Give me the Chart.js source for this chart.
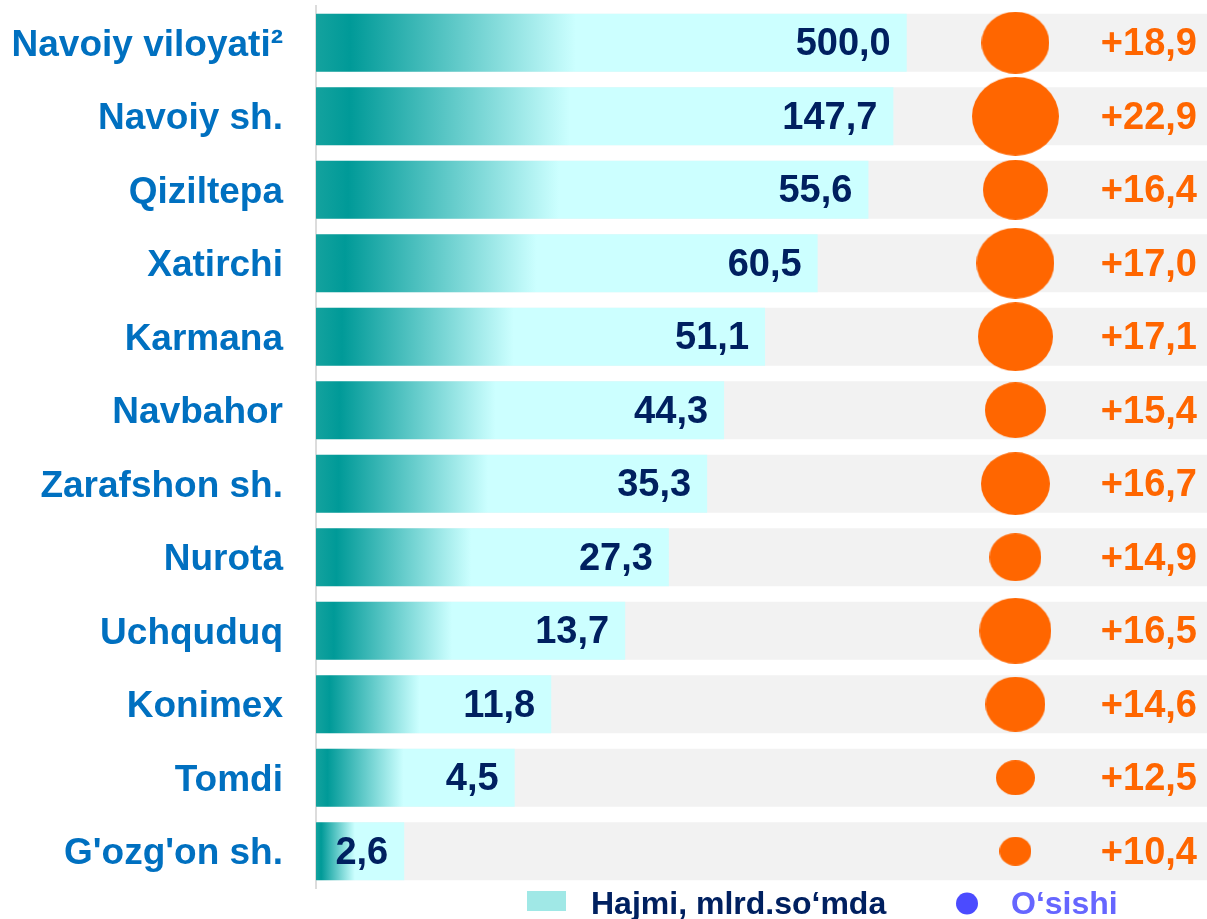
<!DOCTYPE html>
<html>
<head>
<meta charset="utf-8">
<script src="https://cdn.jsdelivr.net/npm/chart.js@4.4.1/dist/chart.umd.min.js"></script>
<style>
  html, body { margin: 0; padding: 0; background: #fff; }
  #wrap { width: 1207px; height: 919px; }
</style>
</head>
<body>
<div id="wrap"><canvas id="chart" width="1207" height="919"></canvas></div>
<script>
// ── data ────────────────────────────────────────────────────
const regions = ['Navoiy viloyati²', 'Navoiy sh.', 'Qiziltepa', 'Xatirchi', 'Karmana', 'Navbahor',
  'Zarafshon sh.', 'Nurota', 'Uchquduq', 'Konimex', 'Tomdi', "G'ozg'on sh."];
const volume = [500.0, 147.7, 55.6, 60.5, 51.1, 44.3, 35.3, 27.3, 13.7, 11.8, 4.5, 2.6];   // Hajmi, mlrd.so'mda
const growth = [18.9, 22.9, 16.4, 17.0, 17.1, 15.4, 16.7, 14.9, 16.5, 14.6, 12.5, 10.4];   // O'sishi
// bar lengths as drawn (the picture does not scale them by value), on a 0–100 axis
const barLength = [66.3, 64.8, 62.0, 56.3, 50.4, 45.8, 43.9, 39.6, 34.7, 26.4, 22.3, 9.9];
// bubble sizes as drawn
const bubbleSize = [32.4, 41.5, 31.3, 37.2, 35.8, 29.2, 32.9, 25.0, 34.5, 28.7, 18.5, 15.3];

const FONT = "'Liberation Sans', Arial, sans-serif";
const BUBBLE_X = 78.5;
const ORANGE = '#FF6600';
const NAVY = '#002060';

Chart.defaults.font.family = FONT;

const fmt = v => v.toFixed(1).replace('.', ',');

// per-bar horizontal gradient: teal -> light cyan over the first ~45% of the bar
function barGradient(c) {
  const chart = c.chart;
  if (!chart.chartArea || c.type !== 'data') return '#ccffff';
  const xs = chart.scales.x;
  const x0 = xs.getPixelForValue(0);
  const x1 = xs.getPixelForValue(barLength[c.dataIndex]);
  const g = chart.ctx.createLinearGradient(x0, 0, x1, 0);
  g.addColorStop(0, '#14a29e');
  g.addColorStop(0.058, '#009a98');
  g.addColorStop(0.44, '#ccffff');
  g.addColorStop(1, '#ccffff');
  return g;
}

// bubbles in the picture are slightly wider than tall
const _ellipses = {};
function ellipseStyle(c) {
  const r = c.raw && c.raw.r ? c.raw.r : 10;
  if (_ellipses[r]) return _ellipses[r];
  const rx = r * 1.044, ry = r * 0.957;
  const cv = document.createElement('canvas');
  cv.width = Math.round(rx * 2);
  cv.height = Math.round(ry * 2);
  const cx = cv.getContext('2d');
  cx.fillStyle = ORANGE;
  cx.beginPath();
  cx.ellipse(cv.width / 2, cv.height / 2, cv.width / 2, cv.height / 2, 0, 0, Math.PI * 2);
  cx.fill();
  _ellipses[r] = cv;
  return cv;
}

// ── value labels + legend ───────────────────────────────────
const rowLabelsPlugin = {
  id: 'rowLabels',
  afterDatasetsDraw(chart) {
    const { ctx, chartArea } = chart;
    const bars = chart.getDatasetMeta(1).data;
    ctx.save();
    ctx.font = `bold 38px ${FONT}`;
    ctx.textBaseline = 'middle';
    ctx.textAlign = 'right';
    bars.forEach((bar, i) => {
      ctx.fillStyle = NAVY;
      ctx.fillText(fmt(volume[i]), bar.x - 16, bar.y + 2);
      ctx.fillStyle = ORANGE;
      ctx.fillText('+' + fmt(growth[i]), chartArea.right - 10, bar.y + 2);
    });

    // legend under the plot
    const ly = chartArea.bottom;
    const lx = chartArea.left;
    ctx.fillStyle = '#A0E8E6';
    ctx.fillRect(lx + 211, ly + 3, 39, 20);
    ctx.font = `bold 32px ${FONT}`;
    ctx.textAlign = 'left';
    ctx.textBaseline = 'alphabetic';
    ctx.fillStyle = NAVY;
    ctx.fillText('Hajmi, mlrd.so‘mda', lx + 275, ly + 26);
    ctx.fillStyle = '#4B4BFF';
    ctx.beginPath();
    ctx.arc(lx + 651, ly + 15.5, 11, 0, Math.PI * 2);
    ctx.fill();
    ctx.fillStyle = '#6666FF';
    ctx.fillText('O‘sishi', lx + 695, ly + 26);
    ctx.restore();
  }
};

new Chart(document.getElementById('chart'), {
  type: 'bar',
  data: {
    labels: regions,
    datasets: [
      {
        type: 'bubble',
        label: 'O‘sishi',
        data: regions.map((r, i) => ({ x: BUBBLE_X, y: r, r: bubbleSize[i] })),
        backgroundColor: ORANGE,
        borderWidth: 0,
        pointStyle: ellipseStyle,
        clip: false,
        order: 0
      },
      {
        label: 'Hajmi, mlrd.so‘mda',
        data: barLength,
        backgroundColor: barGradient,
        grouped: false,
        barPercentage: 0.79,
        categoryPercentage: 1,
        order: 1
      },
      {
        label: 'bg',
        data: regions.map(() => 100),
        backgroundColor: '#F2F2F2',
        grouped: false,
        barPercentage: 0.79,
        categoryPercentage: 1,
        order: 2
      }
    ]
  },
  options: {
    indexAxis: 'y',
    responsive: false,
    animation: false,
    events: [],
    layout: { autoPadding: false, padding: { top: 6, bottom: 31, left: 0, right: 0 } },
    plugins: { legend: { display: false }, tooltip: { enabled: false } },
    scales: {
      x: { type: 'linear', min: 0, max: 100, display: false },
      y: {
        type: 'category',
        offset: true,
        grid: { display: false, drawTicks: false },
        border: { display: true, color: '#DCDCDC', width: 2 },
        ticks: {
          autoSkip: false,
          padding: 33,
          labelOffset: 3,
          color: '#0070C0',
          font: { size: 37, weight: 'bold' }
        },
        afterFit(scale) {
          scale.width = 316;
          scale.paddingTop = 0;
          scale.paddingBottom = 0;
        }
      }
    }
  },
  plugins: [rowLabelsPlugin]
});
</script>
</body>
</html>
